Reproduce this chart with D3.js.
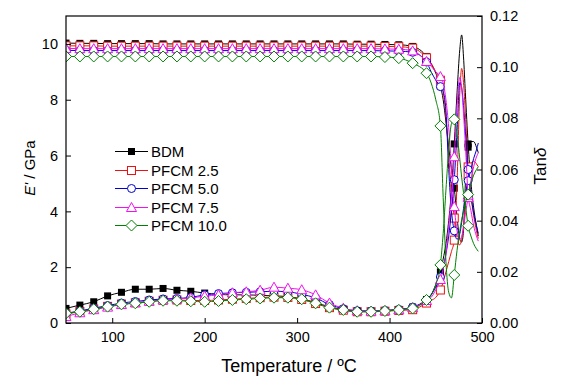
<!DOCTYPE html>
<html><head><meta charset="utf-8">
<script src="https://cdn.jsdelivr.net/npm/d3@7"></script>
<style>body{margin:0;background:#fff}svg{display:block;font-family:Arial,"Liberation Sans",sans-serif}</style>
</head><body><svg id="c" width="572" height="382"></svg>
<script>
const temperature = [50,65,80,95,110,125,140,155,170,185,200,215,230,245,260,275,290,305,320,335,350,365,380,395,410,425,440,
  445,450,455,458,461,464,467,470,473,476,478,480,482,485,488,491,494,496];
const seriesNames = ["BDM","PFCM 2.5","PFCM 5.0","PFCM 7.5","PFCM 10.0"];
// storage modulus E' (GPa)
const eBDM = [10.03,10.02,10.02,10.01,10.01,10.01,10.01,10.0,10.0,10.0,10.0,10.0,10.0,10.0,10.0,10.0,10.0,10.0,10.0,10.0,10.0,9.99,9.99,9.98,9.97,9.91,9.55,
  9.3,8.95,8.5,8.0,7.2,6.3,5.5,4.83,3.8,3.0,2.9,3.3,5.0,6.3,6.5,6.5,6.3,6.1];
const eP25 = [9.93,9.93,9.93,9.92,9.92,9.92,9.92,9.92,9.92,9.92,9.92,9.92,9.92,9.92,9.92,9.92,9.92,9.92,9.92,9.92,9.92,9.92,9.92,9.91,9.9,9.85,9.5,
  9.3,9.0,8.7,8.3,7.4,6.0,4.7,3.76,3.0,2.8,3.0,3.5,4.2,5.3,5.7,5.8,5.7,5.6];
const eP50 = [9.77,9.76,9.76,9.76,9.76,9.76,9.76,9.76,9.76,9.76,9.76,9.76,9.76,9.76,9.76,9.76,9.76,9.76,9.76,9.76,9.76,9.76,9.76,9.75,9.74,9.7,9.35,
  9.0,8.7,8.47,8.3,7.6,5.5,4.0,3.3,3.0,3.2,3.6,4.1,4.6,5.1,5.5,5.9,6.2,6.45];
const eP75 = [9.84,9.83,9.83,9.83,9.83,9.83,9.83,9.83,9.83,9.83,9.83,9.83,9.83,9.83,9.83,9.83,9.83,9.83,9.83,9.83,9.83,9.83,9.83,9.82,9.81,9.75,9.37,
  9.2,9.0,8.83,8.6,8.0,7.0,5.5,4.17,3.3,3.0,3.1,3.4,3.9,4.5,5.1,5.6,5.95,6.1];
const eP100 = [9.55,9.55,9.55,9.55,9.55,9.55,9.55,9.55,9.55,9.55,9.55,9.55,9.55,9.55,9.55,9.55,9.55,9.55,9.55,9.55,9.55,9.55,9.55,9.53,9.49,9.31,8.95,
  8.6,8.0,7.06,4.5,2.2,1.1,0.9,1.72,2.6,3.3,3.7,4.0,4.3,4.6,5.0,5.3,5.5,5.6];
// loss factor tan delta
const tBDM = [.0057,.0070,.0083,.0106,.0120,.0132,.0132,.0135,.0128,.0124,.0117,.0112,.0110,.0110,.0108,.0106,.0103,.0094,.0080,.0063,.0052,.0046,.0046,.0049,.0053,.0062,.0092,
  .011,.015,.020,.025,.031,.040,.052,.070,.090,.107,.1126,.104,.090,.070,.055,.045,.038,.034];
const tP25 = [.0035,.0045,.0055,.0065,.0074,.0079,.0085,.0089,.0090,.0088,.0088,.0090,.0093,.0096,.0099,.0101,.0100,.0092,.0076,.0060,.0050,.0044,.0044,.0046,.0049,.0052,.0078,
  .0088,.010,.0129,.016,.020,.024,.028,.0324,.055,.090,.0995,.094,.082,.061,.050,.042,.036,.033];
const tP50 = [.0038,.0047,.0058,.0068,.0078,.0084,.0090,.0094,.0096,.0100,.0110,.0115,.0118,.0120,.0122,.0124,.0122,.0112,.0098,.0072,.0056,.0048,.0047,.0049,.0053,.0062,.0090,
  .011,.014,.018,.022,.027,.034,.044,.056,.075,.094,.092,.085,.075,.060,.050,.043,.038,.035];
const tP75 = [.0025,.0040,.0052,.0062,.0072,.0079,.0085,.0090,.0094,.0098,.0105,.0110,.0118,.0122,.0128,.0140,.0136,.0130,.0110,.0078,.0058,.0048,.0046,.0048,.0052,.0060,.0088,
  .010,.013,.017,.021,.027,.038,.050,.065,.085,.096,.092,.082,.070,.050,.044,.038,.034,.032];
const tP100 = [.0038,.0044,.0054,.0064,.0073,.0077,.0083,.0087,.0087,.0085,.0083,.0086,.0090,.0093,.0096,.0099,.0099,.0093,.0077,.0060,.0051,.0044,.0044,.0047,.0051,.0057,.0090,
  .011,.015,.0227,.035,.052,.068,.078,.0796,.074,.064,.057,.051,.046,.038,.034,.031,.029,.028];
const xTicks = [100,200,300,400,500];
const yLeftTicks = [0,2,4,6,8,10];
const yRightTicks = [0,0.02,0.04,0.06,0.08,0.10,0.12];

const eData = [eBDM,eP25,eP50,eP75,eP100];
const tData = [tBDM,tP25,tP50,tP75,tP100];
const colors = ["#000000","#ee1111","#0000d0","#f010f0","#008000"];
const shapes = ["fsquare","square","circle","triangle","diamond"];

const L=66, R=482, T=16, B=323;
const svg = d3.select("#c");
const x = d3.scaleLinear().domain([50,500]).range([L,R]);
const yL = d3.scaleLinear().domain([0,11]).range([B,T]);
const yR = d3.scaleLinear().domain([0,0.12]).range([B,T]);

function marker(g, shape, color, cx, cy){
  if(shape==="fsquare") g.append("rect").attr("x",cx-3.5).attr("y",cy-3.5).attr("width",7).attr("height",7).attr("fill",color);
  else if(shape==="square") g.append("rect").attr("x",cx-4).attr("y",cy-4).attr("width",8).attr("height",8).attr("fill","#fff").attr("stroke",color).attr("stroke-width",1);
  else if(shape==="circle") g.append("circle").attr("cx",cx).attr("cy",cy).attr("r",4).attr("fill","#fff").attr("stroke",color).attr("stroke-width",1);
  else if(shape==="triangle") g.append("path").attr("d",`M${cx},${cy-5}L${cx+5},${cy+4}L${cx-5},${cy+4}Z`).attr("fill","#fff").attr("stroke",color).attr("stroke-width",1);
  else if(shape==="diamond") g.append("path").attr("d",`M${cx},${cy-5.5}L${cx+5.5},${cy}L${cx},${cy+5.5}L${cx-5.5},${cy}Z`).attr("fill","#fff").attr("stroke",color).attr("stroke-width",1);
}

const plot = svg.append("g");
svg.append("clipPath").attr("id","pc").append("rect").attr("x",L).attr("y",T-6).attr("width",R-L).attr("height",B-T+6);
plot.attr("clip-path","url(#pc)");

seriesNames.forEach((name,i)=>{
  const g = plot.append("g");
  [[eData[i],yL],[tData[i],yR]].forEach(([vals,ys])=>{
    const pts = temperature.map((t,j)=>[t,vals[j]]);
    g.append("path").datum(pts)
      .attr("d", d3.line().x(d=>x(d[0])).y(d=>ys(d[1])).curve(d3.curveMonotoneX))
      .attr("fill","none").attr("stroke",colors[i]).attr("stroke-width",1);
  });
  [[eData[i],yL],[tData[i],yR]].forEach(([vals,ys])=>{
    temperature.forEach((t,j)=>{ if((t-50)%15===0) marker(g,shapes[i],colors[i],x(t),ys(vals[j])); });
  });
});

// axes
const bx = svg.append("g").attr("transform",`translate(0,${B})`)
  .call(d3.axisBottom(x).tickValues(xTicks).tickSizeInner(-5).tickSizeOuter(0).tickPadding(9));
const lx = svg.append("g").attr("transform",`translate(${L},0)`)
  .call(d3.axisLeft(yL).tickValues(yLeftTicks).tickSizeInner(-5).tickSizeOuter(0).tickPadding(8));
const rx = svg.append("g").attr("transform",`translate(${R},0)`)
  .call(d3.axisRight(yR).tickValues(yRightTicks).tickFormat(d3.format(".2f")).tickSizeInner(-5).tickSizeOuter(0).tickPadding(8));
[bx,lx,rx].forEach(a=>{
  a.attr("font-size",14.5).attr("font-family","Arial, 'Liberation Sans', sans-serif");
  a.select(".domain").remove();
  a.selectAll("text").attr("fill","#000");
  a.selectAll("line").attr("stroke","#000");
});
svg.append("rect").attr("x",L).attr("y",T).attr("width",R-L).attr("height",B-T).attr("fill","none").attr("stroke","#000").attr("stroke-width",1.2);

// titles
svg.append("text").attr("x",289).attr("y",372).attr("text-anchor","middle").attr("font-size",18)
  .text("Temperature / ºC");
const yt = svg.append("text").attr("transform","translate(35,168) rotate(-90)").attr("text-anchor","middle").attr("font-size",15);
yt.append("tspan").attr("font-style","italic").text("E'");
yt.append("tspan").text(" / GPa");
const rt = svg.append("text").attr("transform","translate(546,166) rotate(-90)").attr("text-anchor","middle").attr("font-size",17);
rt.append("tspan").text("Tan");
rt.append("tspan").attr("font-style","italic").text("δ");

// legend
const leg = svg.append("g");
seriesNames.forEach((name,i)=>{
  const yy = Math.round(151 + i*18.5) + 0.5;
  leg.append("line").attr("x1",115).attr("x2",148).attr("y1",yy).attr("y2",yy).attr("stroke",colors[i]).attr("stroke-width",1);
  marker(leg,shapes[i],colors[i],131.5,yy);
  leg.append("text").attr("x",151).attr("y",yy).attr("dy","0.36em").attr("font-size",15).text(name);
});
</script></body></html>
